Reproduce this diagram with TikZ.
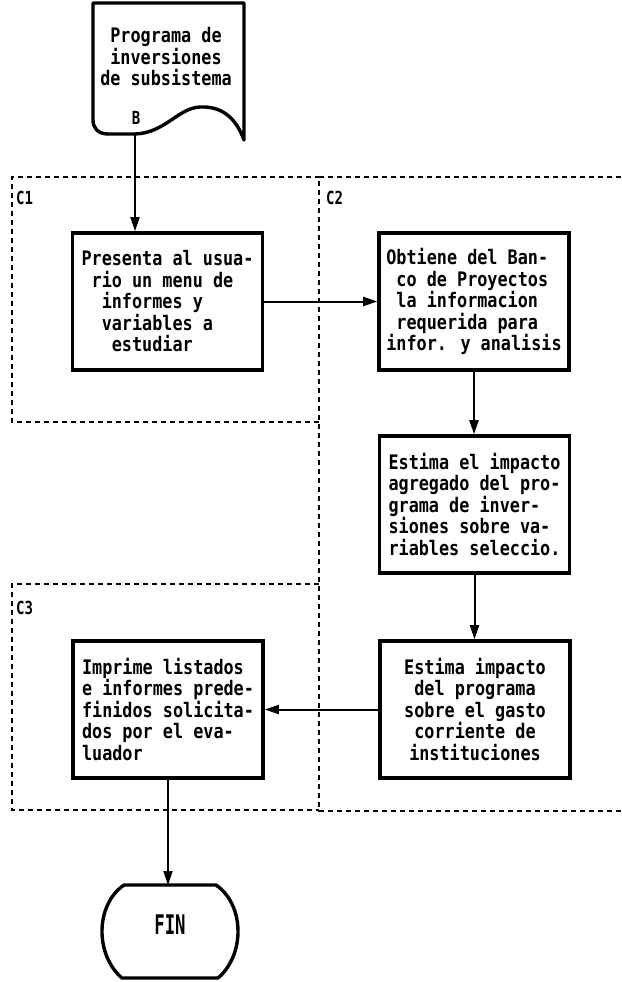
\documentclass[tikz,border=0pt]{standalone}
\usepackage{fontspec}
\newfontfamily\mono[FakeStretch=0.84]{DejaVu Sans Mono}
\newfontfamily\monolab[FakeStretch=0.78]{DejaVu Sans Mono}
\newfontfamily\monofin[FakeStretch=0.64]{DejaVu Sans Mono}
\usetikzlibrary{arrows.meta}
\newcommand\pad[1]{\hspace*{#1\fontcharwd\font`x}}
\tikzset{
  boxfont/.style={font=\mono\bfseries\fontsize{20}{21.5}\selectfont},
  procbox/.style={draw, line width=3.6pt, minimum width=190pt, minimum height=137pt,
    inner sep=0pt, boxfont},
  dsh/.style={draw, line width=1.6pt, dash pattern=on 5pt off 4pt},
  conn/.style={draw, line width=2pt, -{Triangle[length=14pt,width=9pt]}},
  shapeline/.style={draw, line width=3.4pt, line join=round},
  lab/.style={font=\monolab\bfseries\fontsize{18}{18}\selectfont, inner sep=0pt}
}
\begin{document}
\begin{tikzpicture}[x=1pt,y=-1pt]
\useasboundingbox[fill=white] (0,0) rectangle (621,982);
% dashed groups
\draw[dsh] (319,422) -- (12,422) -- (12,177) -- (319,177);
\draw[dsh] (621,177) -- (319,177) -- (319,811) -- (621,811);
\draw[dsh] (319,584) -- (12,584) -- (12,810) -- (319,810);
\node[lab, anchor=west] (c1) at (16,198) {C1};
\node[lab, anchor=west] (c2) at (326,198) {C2};
\node[lab, anchor=west] (c3) at (16,608) {C3};
% document shape
\draw[shapeline] (93,3) -- (244,3) -- (244,140)
  .. controls (236,118) and (222,106) .. (200,107)
  .. controls (178,108) and (165,133) .. (135,134)
  -- (108,134) .. controls (98,134) and (93,128) .. (93,120) -- cycle;
\node[boxfont, align=center, inner sep=0pt] (doc) at (166,57)
  {Programa de\\inversiones\\de subsistema};
\node[lab] (b) at (136,118) {B};
\coordinate (docb) at (135,134);
% process boxes
\node[procbox, align=left] (pres) at (167.5,301.5)
  {Presenta al usua-\\\pad{1}rio un menu de\\\pad{2}informes y\\\pad{2}variables a\\\pad{3}estudiar};
\node[procbox, align=left] (obt) at (474,301.5)
  {Obtiene del Ban-\\\pad{1}co de Proyectos\\\pad{1}la informacion\\\pad{1}requerida para\\infor. y analisis};
\node[procbox, align=left] (est1) at (474.5,504.5)
  {Estima el impacto\\agregado del pro-\\grama de inver-\\siones sobre va-\\riables seleccio.};
\node[procbox, align=center] (est2) at (475,709.5)
  {Estima impacto\\del programa\\sobre el gasto\\corriente de\\instituciones};
\node[procbox, align=left] (imp) at (168,709.5)
  {Imprime listados\\e informes prede-\\finidos solicita-\\dos por el eva-\\luador};
% terminal
\draw[shapeline] (124,885) -- (216,885)
  .. controls (245,905) and (245,955) .. (218,978) -- (122,978)
  .. controls (95,955) and (95,905) .. (124,885) -- cycle;
\node[font=\monofin\bfseries\fontsize{27}{27}\selectfont, inner sep=0pt] (fin) at (170,925) {FIN};
\coordinate (fintop) at (168,885);
% connectors
\draw[conn] (docb) -- (docb |- pres.north);
\draw[conn] (pres.east) -- (obt.west);
\draw[conn] (obt.south) -- (obt.south |- est1.north);
\draw[conn] (est1.south) -- (est1.south |- est2.north);
\draw[conn] (est2.west) -- (est2.west -| imp.east);
\draw[conn] (imp.south) -- (imp.south |- fintop);
\end{tikzpicture}
\end{document}
